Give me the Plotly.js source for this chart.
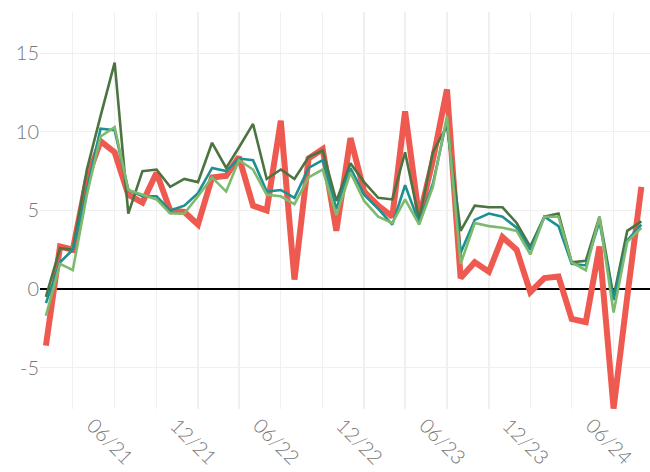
<!DOCTYPE html>
<html>
<head>
<meta charset="utf-8">
<script src="https://cdn.plot.ly/plotly-3.0.1.min.js"></script>
<style>html,body{margin:0;padding:0;background:#fff;}#chart{width:650px;height:472px;}</style>
</head>
<body>
<div id="chart"></div>
<script>
const months = [
  "2021-01-01","2021-02-01","2021-03-01","2021-04-01","2021-05-01","2021-06-01",
  "2021-07-01","2021-08-01","2021-09-01","2021-10-01","2021-11-01","2021-12-01",
  "2022-01-01","2022-02-01","2022-03-01","2022-04-01","2022-05-01","2022-06-01",
  "2022-07-01","2022-08-01","2022-09-01","2022-10-01","2022-11-01","2022-12-01",
  "2023-01-01","2023-02-01","2023-03-01","2023-04-01","2023-05-01","2023-06-01",
  "2023-07-01","2023-08-01","2023-09-01","2023-10-01","2023-11-01","2023-12-01",
  "2024-01-01","2024-02-01","2024-03-01","2024-04-01","2024-05-01","2024-06-01",
  "2024-07-01","2024-08-01"
];
const seriesRed = [-3.6, 2.7, 2.5, 7.0, 9.4, 8.7, 6.0, 5.5, 7.4, 5.0, 4.9, 4.1, 7.1, 7.2, 8.4, 5.3, 5.0, 10.7, 0.6, 8.3, 8.9, 3.7, 9.6, 6.2, 5.3, 4.6, 11.3, 4.5, 8.2, 12.7, 0.7, 1.7, 1.1, 3.3, 2.5, -0.2, 0.7, 0.8, -1.9, -2.1, 2.7, -7.6, -0.5, 6.5];
const seriesDarkGreen = [-0.5, 2.6, 2.5, 7.6, 11.0, 14.4, 4.8, 7.5, 7.6, 6.5, 7.0, 6.8, 9.3, 7.7, 9.0, 10.5, 7.0, 7.6, 7.0, 8.4, 8.8, 5.6, 8.0, 6.8, 5.8, 5.7, 8.7, 4.4, 8.7, 10.4, 3.7, 5.3, 5.2, 5.2, 4.2, 2.7, 4.6, 4.8, 1.7, 1.8, 4.6, -0.5, 3.7, 4.3];
const seriesTeal = [-0.9, 1.7, 2.5, 6.3, 10.2, 10.1, 6.3, 5.9, 5.9, 5.0, 5.3, 6.1, 7.7, 7.5, 8.3, 8.2, 6.2, 6.3, 5.8, 7.7, 8.2, 5.1, 7.7, 6.0, 5.1, 4.1, 6.6, 4.2, 6.7, 10.8, 2.3, 4.4, 4.8, 4.6, 3.9, 2.5, 4.6, 4.0, 1.6, 1.5, 4.3, -0.7, 3.1, 4.1];
const seriesLightGreen = [-1.7, 1.6, 1.2, 6.0, 9.7, 10.3, 6.3, 6.0, 5.7, 4.8, 4.8, 5.9, 7.1, 6.2, 8.2, 7.6, 6.0, 5.9, 5.4, 7.1, 7.6, 4.7, 7.4, 5.6, 4.6, 4.2, 5.7, 4.1, 6.5, 11.0, 1.6, 4.2, 4.0, 3.9, 3.7, 2.2, 4.6, 4.6, 1.7, 1.2, 4.6, -1.5, 3.0, 3.9];
const tickDates = [
  "2021-03-01","2021-06-01","2021-09-01","2021-12-01","2022-03-01","2022-06-01",
  "2022-09-01","2022-12-01","2023-03-01","2023-06-01","2023-09-01","2023-12-01",
  "2024-03-01","2024-06-01"
];
const tickLabels = ["","06/21","","12/21","","06/22","","12/22","","06/23","","12/23","","06/24"];
const yTicks = [-5, 0, 5, 10, 15];

const mk = (y, color, width) => ({
  x: months, y: y, type: "scatter", mode: "lines",
  line: {color: color, width: width}, hoverinfo: "skip", showlegend: false
});
const data = [
  mk(seriesRed, "#EE5A50", 6),
  mk(seriesDarkGreen, "#4B7440", 2.6),
  mk(seriesTeal, "#1F9091", 2.6),
  mk(seriesLightGreen, "#7DBA6E", 2.6)
];
const font = {family: "Lato, 'Open Sans', sans-serif", size: 20, color: "#777777", weight: 300};
const layout = {
  width: 650, height: 472,
  margin: {l: 40, r: 0, t: 12, b: 63},
  paper_bgcolor: "#ffffff", plot_bgcolor: "#ffffff",
  font: font,
  showlegend: false,
  xaxis: {
    type: "date",
    range: ["2020-12-19", "2024-08-20"],
    tickmode: "array", tickvals: tickDates, ticktext: tickLabels,
    tickangle: 45, ticks: "", ticklabelshift: -22,
    showgrid: true, gridcolor: "#f0f0f0", gridwidth: 1.3,
    zeroline: false, showline: false,
    tickfont: font
  },
  yaxis: {
    range: [-7.63, 17.62],
    tickmode: "array", tickvals: yTicks, ticktext: yTicks.map(String),
    ticks: "", showgrid: true, gridcolor: "#f0f0f0", gridwidth: 1.3,
    zeroline: true, zerolinecolor: "#000000", zerolinewidth: 1.3,
    showline: false, tickfont: font
  }
};
Plotly.newPlot("chart", data, layout, {displayModeBar: false, staticPlot: true});
</script>
</body>
</html>
